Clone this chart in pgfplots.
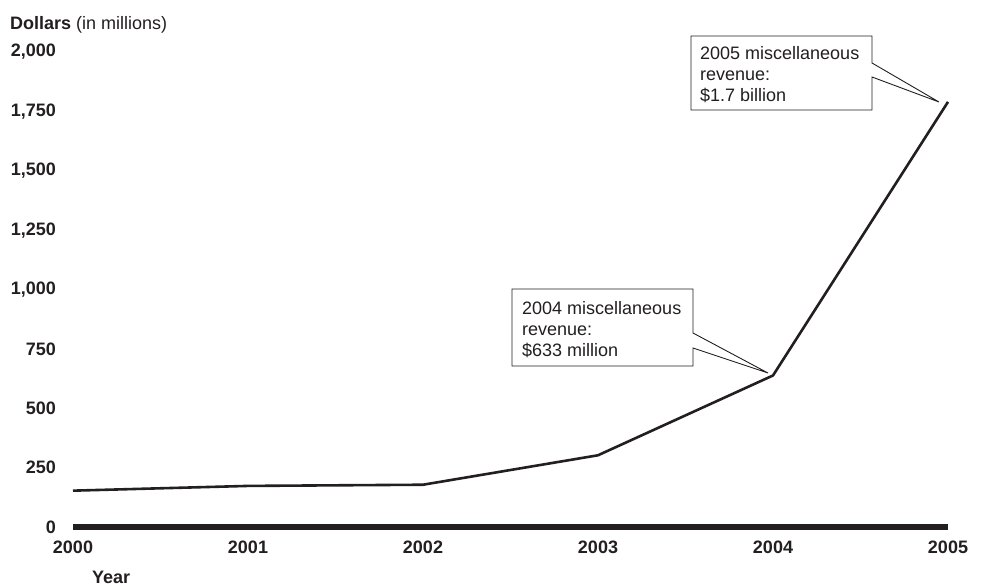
\documentclass[border=0pt]{standalone}
\usepackage{pgfplots}
\pgfplotsset{compat=1.18}
\usepackage{fontspec}
\setmainfont{Liberation Sans}
\definecolor{ink}{RGB}{35,31,32}

\begin{document}
\begin{tikzpicture}[x=1pt,y=1pt]
  % page frame: 982 x 587, axis box lower left at (0,0)
  \useasboundingbox (-73,-60) rectangle (909,527);

  \begin{axis}[
    at={(0,0)}, anchor=south west,
    scale only axis,
    width=875pt, height=475pt,
    xmin=2000, xmax=2005,
    ymin=0, ymax=2000,
    axis x line=bottom,
    axis y line=left,
    x axis line style={-, line width=5.5pt, ink},
    y axis line style={draw=none},
    major tick length=0pt,
    xtick={2000,2001,2002,2003,2004,2005},
    xticklabels={2000,2001,2002,2003,2004,2005},
    ytick={0,250,500,750,1000,1250,1500,1750,2000},
    yticklabels={0,250,500,750,{1,000},{1,250},{1,500},{1,750},{2,000}},
    ticklabel style={font=\fontsize{18}{21}\selectfont\bfseries, text=ink, inner sep=0pt},
    xticklabel style={anchor=north, yshift=-14pt},
    yticklabel style={anchor=east, xshift=-17pt},
    clip=false,
  ]
    \addplot[ink, line width=2.6pt, line join=round] coordinates {
      (2000,153) (2001,173) (2002,178) (2003,302) (2004,638) (2005,1790)
    };
  \end{axis}

  \begin{scope}[font=\fontsize{18}{21}\selectfont, text=ink]
    % axis titles
    \node[anchor=base west, inner sep=0pt] at (-63,497.5) {\textbf{Dollars} (in millions)};
    \node[anchor=base west, inner sep=0pt] at (19,-56.5) {\textbf{Year}};

    % callout 2005
    \draw[ink, line width=0.9pt, fill=white, line join=miter]
      (618,491) -- (799,491) -- (799,464) -- (866,425) -- (799,450)
      -- (799,417) -- (618,417) -- cycle;
    \node[anchor=base west, inner sep=0pt] at (627,467.5) {2005 miscellaneous};
    \node[anchor=base west, inner sep=0pt] at (627,446.5) {revenue:};
    \node[anchor=base west, inner sep=0pt] at (627,425.5) {\$1.7 billion};

    % callout 2004
    \draw[ink, line width=0.9pt, fill=white, line join=miter]
      (439,238) -- (620,238) -- (620,194) -- (695,154) -- (620,179)
      -- (620,161) -- (439,161) -- cycle;
    \node[anchor=base west, inner sep=0pt] at (449,212.5) {2004 miscellaneous};
    \node[anchor=base west, inner sep=0pt] at (449,191.5) {revenue:};
    \node[anchor=base west, inner sep=0pt] at (449,170.5) {\$633 million};
  \end{scope}
\end{tikzpicture}
\end{document}
